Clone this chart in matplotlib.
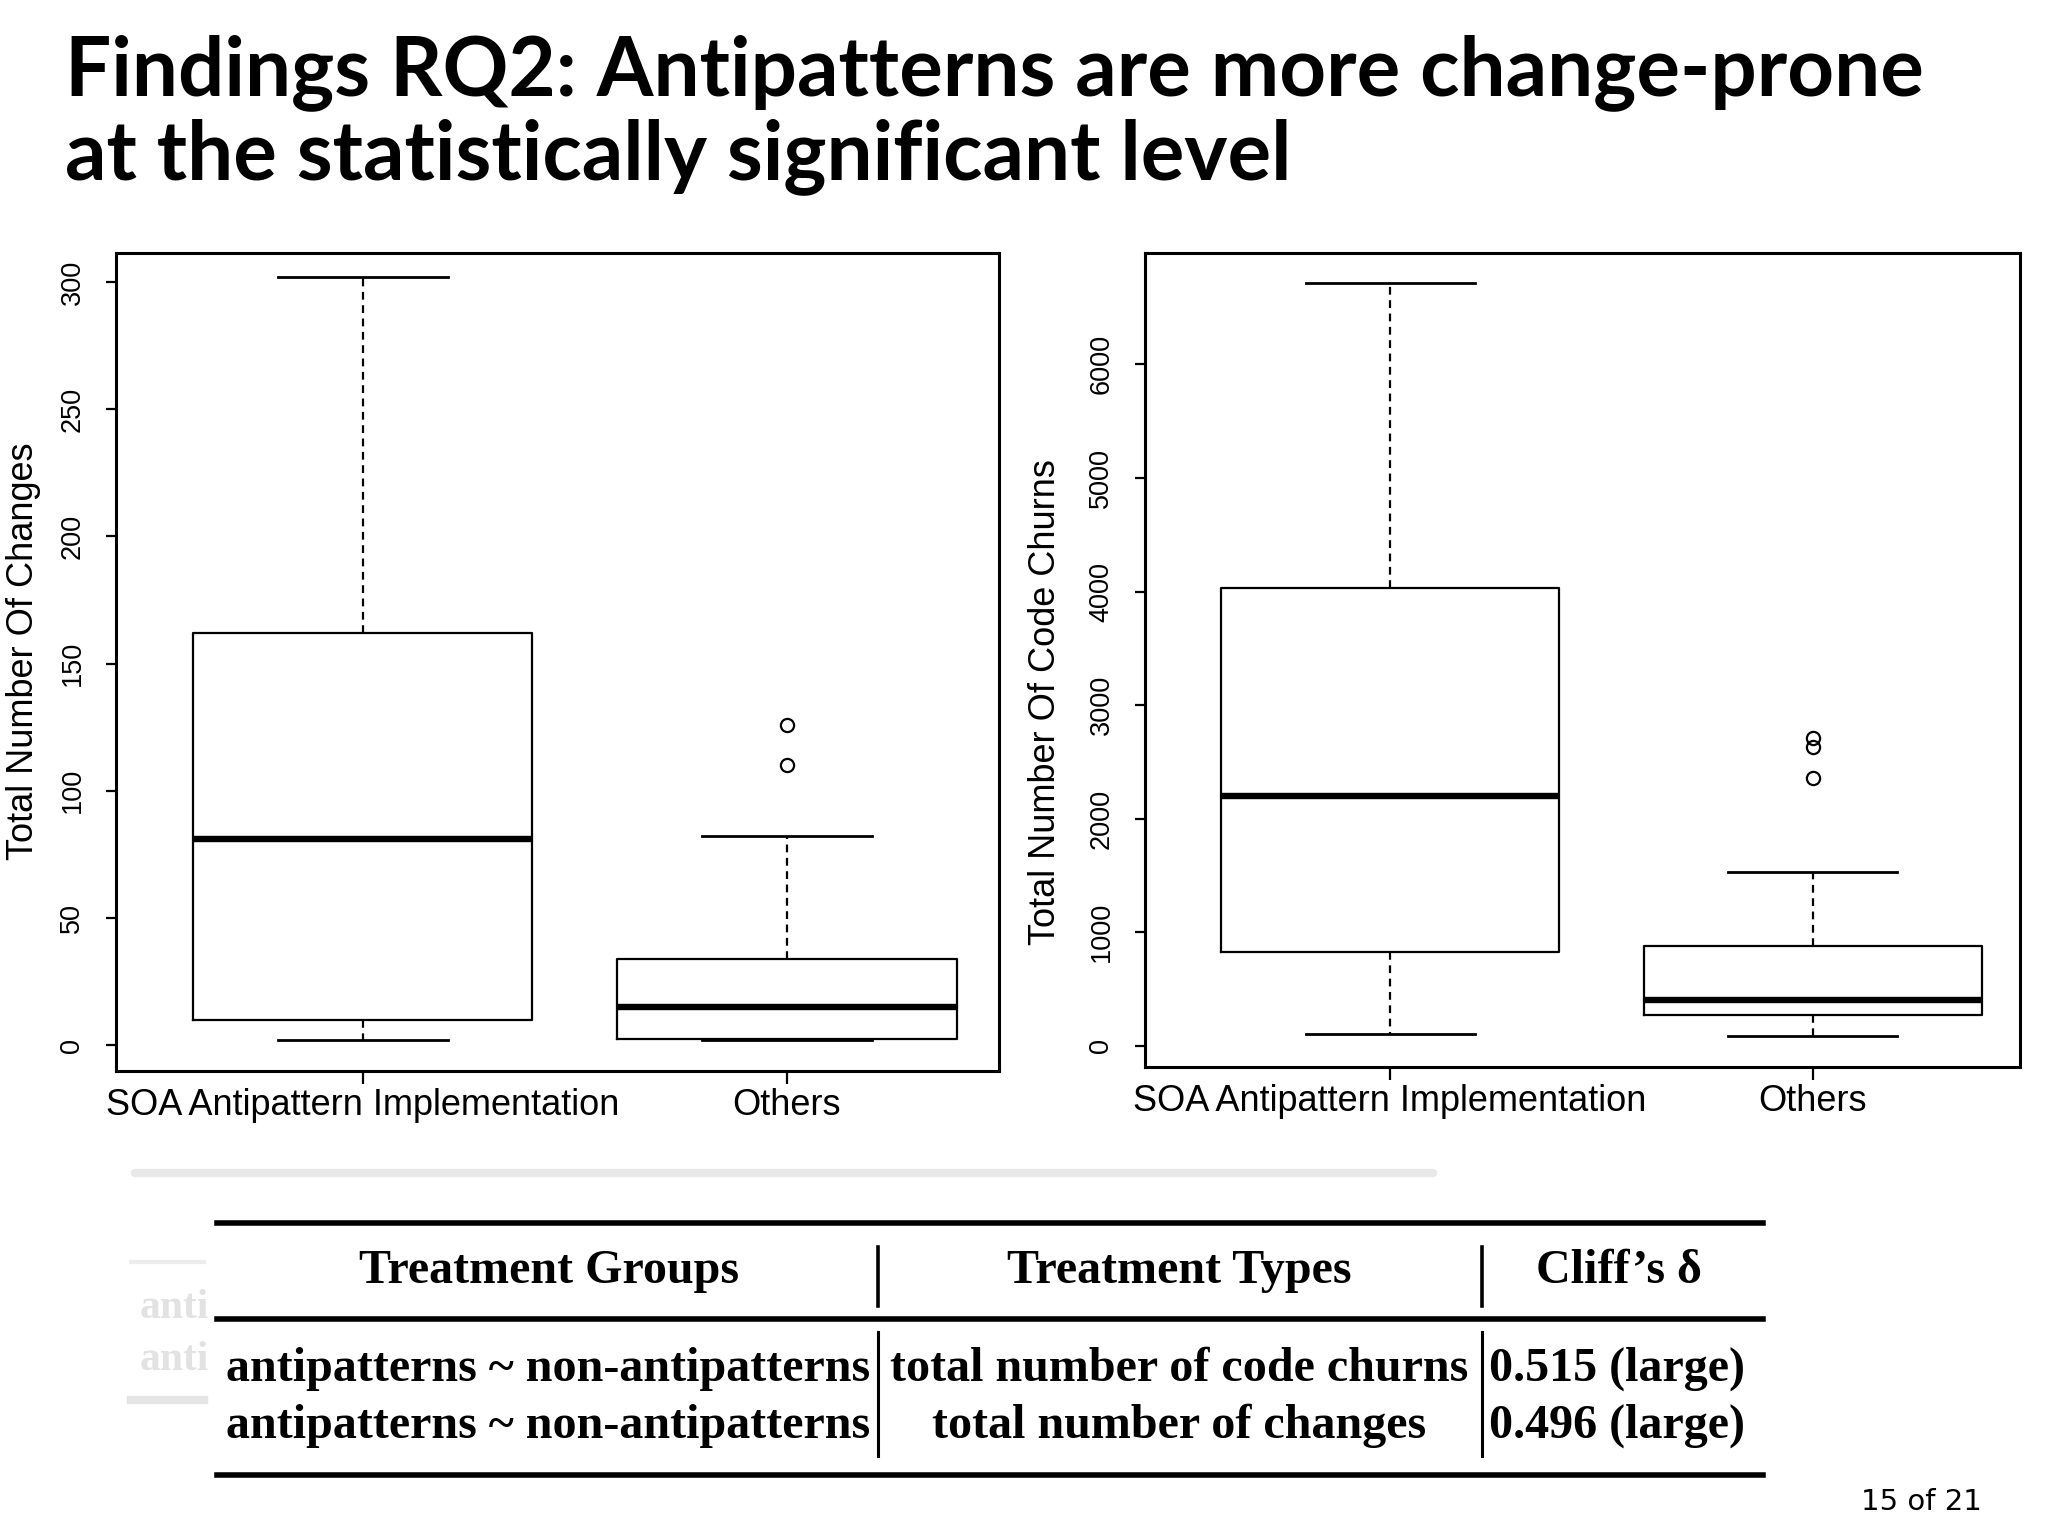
import matplotlib
matplotlib.use("Agg")
import matplotlib.pyplot as plt
from matplotlib.lines import Line2D

W, H = 2048, 1536

title_lines = ["Findings RQ2: Antipatterns are more change-prone",
               "at the statistically significant level"]
groups = ["SOA Antipattern Implementation", "Others"]

# total number of changes (left panel)
changes_low = [2, 2]
changes_q1 = [10, 2.3]
changes_med = [81, 15]
changes_q3 = [162, 34]
changes_high = [302, 82]
changes_fliers = [[], [110, 126]]

# total number of code churns (right panel)
churn_low = [105, 90]
churn_q1 = [825, 275]
churn_med = [2200, 405]
churn_q3 = [4030, 880]
churn_high = [6720, 1530]
churn_fliers = [[], [2356, 2634, 2709]]

table_header = ["Treatment Groups", "Treatment Types", "Cliff\u2019s \u03b4"]
table_groups = ["antipatterns ~ non-antipatterns", "antipatterns ~ non-antipatterns"]
table_types = ["total number of code churns", "total number of changes"]
table_effects = ["0.515 (large)", "0.496 (large)"]

page_label = "15 of 21"


def fx(x):
    return x / W


def fy(y):
    return 1 - y / H


def fit_width(fig, txt, target):
    r = fig.canvas.get_renderer()
    w = txt.get_window_extent(renderer=r).width
    txt.set_fontsize(txt.get_fontsize() * target / w)
    return txt.get_fontsize()


def make_stats(low, q1, med, q3, high, fliers):
    stats = []
    for i in range(len(low)):
        stats.append({"whislo": low[i], "q1": q1[i], "med": med[i], "q3": q3[i],
                      "whishi": high[i], "fliers": fliers[i]})
    return stats


def draw_box_panel(ax, stats, ylabel, yticks, ylim, xlim, label_x, label_y):
    ax.bxp(stats, positions=[1, 2], widths=0.8, capwidths=0.4, showfliers=True,
           boxprops=dict(color="black", linewidth=1.6),
           medianprops=dict(color="black", linewidth=4.6, solid_capstyle="butt"),
           whiskerprops=dict(color="black", linewidth=1.6, linestyle=(0, (3.5, 2.5))),
           capprops=dict(color="black", linewidth=2.0),
           flierprops=dict(marker="o", markerfacecolor="none", markeredgecolor="black",
                           markersize=9.5, markeredgewidth=1.6))
    ax.set_xlim(*xlim)
    ax.set_ylim(*ylim)
    ax.set_yticks(yticks)
    ax.set_yticklabels([str(t) for t in yticks], fontsize=19.5, family="Liberation Sans")
    plt.setp(ax.get_yticklabels(), rotation=90, va="center")
    ax.set_xticks([1, 2])
    ax.set_xticklabels(groups, fontsize=26, family="Liberation Sans")
    ax.tick_params(axis="y", length=7, width=1.6, pad=15)
    ax.tick_params(axis="x", length=9, width=1.6, pad=3)
    for s in ax.spines.values():
        s.set_linewidth(2.2)
        s.set_color("black")
    ax.set_ylabel(ylabel, fontsize=26, family="Liberation Sans")
    ax.yaxis.set_label_coords(label_x, label_y)


fig = plt.figure(figsize=(W / 100, H / 100), dpi=100)

# title
t1 = fig.text(fx(65), fy(95), title_lines[0], fontsize=50, weight="bold",
              family="Lato", va="baseline", ha="left")
size = fit_width(fig, t1, 1861)
fig.text(fx(65), fy(179), title_lines[1], fontsize=size, weight="bold",
         family="Lato", va="baseline", ha="left")

ax1 = fig.add_axes([fx(116), fy(1071), (999 - 116) / W, (1071 - 253) / H])
draw_box_panel(ax1, make_stats(changes_low, changes_q1, changes_med, changes_q3,
                               changes_high, changes_fliers),
               "Total Number Of Changes", [0, 50, 100, 150, 200, 250, 300],
               (-10.2, 311.4), (0.418, 2.50), -0.085, 0.513)

ax2 = fig.add_axes([fx(1145), fy(1067), (2020 - 1145) / W, (1067 - 253) / H])
draw_box_panel(ax2, make_stats(churn_low, churn_q1, churn_med, churn_q3,
                               churn_high, churn_fliers),
               "Total Number Of Code Churns", [0, 1000, 2000, 3000, 4000, 5000, 6000],
               (-185, 6980), (0.42, 2.49), -0.094, 0.448)

# faint leftovers of the slide below the plots
fig.add_artist(Line2D([fx(135), fx(1433)], [fy(1173), fy(1173)], color="#e8e8e8",
                      linewidth=6, solid_capstyle="round"))
fig.add_artist(Line2D([fx(131), fx(204)], [fy(1262), fy(1262)], color="#ececec", linewidth=3))
fig.add_artist(Line2D([fx(131), fx(204)], [fy(1400), fy(1400)], color="#e4e4e4", linewidth=6))
for yy in [1308, 1360]:
    fig.text(fx(140), fy(yy), "anti", fontsize=30, family="Liberation Serif", weight="bold",
             color="#e2e2e2", va="center", ha="left")

# table
for yy in [1223, 1319, 1475]:
    fig.add_artist(Line2D([fx(217), fx(1763)], [fy(yy), fy(yy)], color="black", linewidth=4))
for xx in [878, 1482]:
    fig.add_artist(Line2D([fx(xx), fx(xx)], [fy(1247), fy(1306)], color="black", linewidth=2.6))
    fig.add_artist(Line2D([fx(xx), fx(xx)], [fy(1332), fy(1456)], color="black", linewidth=2.2))

row_y = [1369, 1426]
r0 = fig.text(fx(548), fy(row_y[0]), table_groups[0], fontsize=30, family="Liberation Serif",
              weight="bold", ha="center", va="center")
tsize = fit_width(fig, r0, 643)
fig.text(fx(549), fy(1271), table_header[0], fontsize=tsize, family="Liberation Serif",
         weight="bold", ha="center", va="center")
fig.text(fx(1179), fy(1271), table_header[1], fontsize=tsize, family="Liberation Serif",
         weight="bold", ha="center", va="center")
fig.text(fx(1619), fy(1271), table_header[2], fontsize=tsize, family="Liberation Serif",
         weight="bold", ha="center", va="center")
for i in range(len(table_groups)):
    if i > 0:
        fig.text(fx(548), fy(row_y[i]), table_groups[i], fontsize=tsize,
                 family="Liberation Serif", weight="bold", ha="center", va="center")
    fig.text(fx(1179), fy(row_y[i]), table_types[i], fontsize=tsize,
             family="Liberation Serif", weight="bold", ha="center", va="center")
    fig.text(fx(1489), fy(row_y[i]), table_effects[i], fontsize=tsize,
             family="Liberation Serif", weight="bold", ha="left", va="center")

pg = fig.text(fx(1982), fy(1502), page_label, fontsize=20, family="DejaVu Sans",
              ha="right", va="center")
fit_width(fig, pg, 121)

fig.savefig("out.png", dpi=100)
